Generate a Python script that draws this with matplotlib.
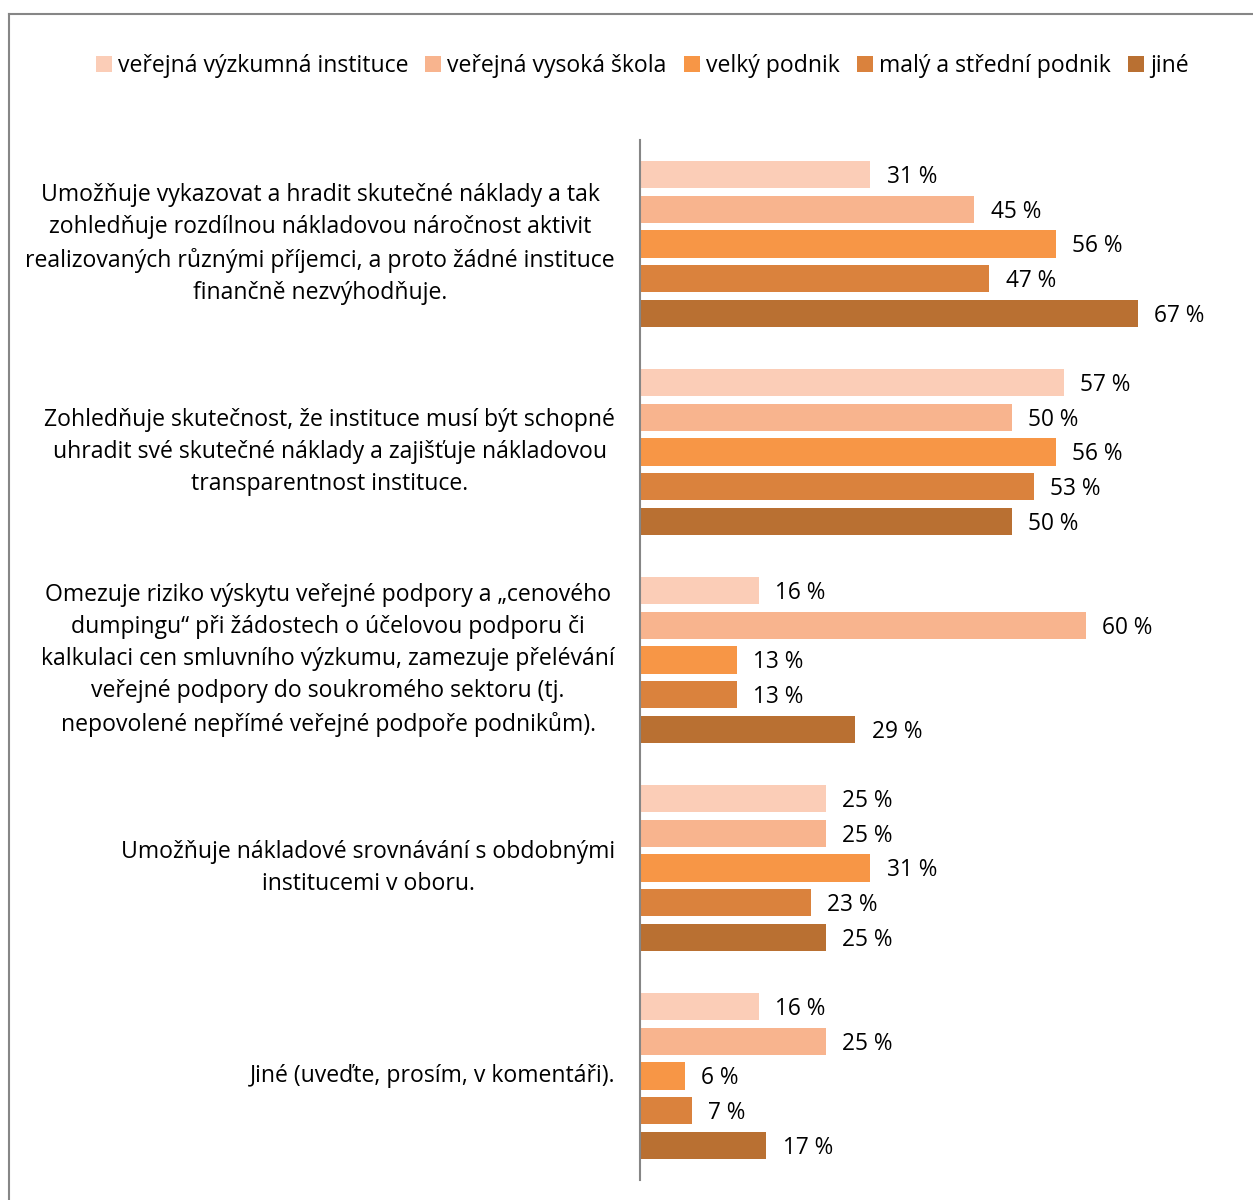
import matplotlib.pyplot as plt
from matplotlib.lines import Line2D
from matplotlib.patches import Patch

plt.rcParams["font.family"] = ["Open Sans", "DejaVu Sans"]

categories = [
    "Umožňuje vykazovat a hradit skutečné náklady a tak\n"
    "zohledňuje rozdílnou nákladovou náročnost aktivit\n"
    "realizovaných různými příjemci, a proto žádné instituce\n"
    "finančně nezvýhodňuje.",
    "Zohledňuje skutečnost, že instituce musí být schopné\n"
    "uhradit své skutečné náklady a zajišťuje nákladovou\n"
    "transparentnost instituce.",
    "Omezuje riziko výskytu veřejné podpory a „cenového\n"
    "dumpingu“ při žádostech o účelovou podporu či\n"
    "kalkulaci cen smluvního výzkumu, zamezuje přelévání\n"
    "veřejné podpory do soukromého sektoru (tj.\n"
    "nepovolené nepřímé veřejné podpoře podnikům).",
    "Umožňuje nákladové srovnávání s obdobnými\n"
    "institucemi v oboru.",
    "Jiné (uveďte, prosím, v komentáři).",
]

series_names = [
    "veřejná výzkumná instituce",
    "veřejná vysoká škola",
    "velký podnik",
    "malý a střední podnik",
    "jiné",
]

verejna_vyzkumna = [31, 57, 16, 25, 16]
verejna_vs = [45, 50, 60, 25, 25]
velky_podnik = [56, 56, 13, 31, 6]
msp = [47, 53, 13, 23, 7]
jine = [67, 50, 29, 25, 17]

series_values = [verejna_vyzkumna, verejna_vs, velky_podnik, msp, jine]
colors = ["#FBCDB7", "#F8B48E", "#F79646", "#DA823D", "#B97032"]

W, H = 1253, 1200
fig = plt.figure(figsize=(W / 100, H / 100), dpi=100)

# plot area: left edge at 640 px, y from 140 to 1180 px
px_per_pct = 7.43
xmax = 80
ax = fig.add_axes([640 / W, 1 - 1180 / H, xmax * px_per_pct / W, 1040 / H])

slot = 1 / 6
bar_h = 0.78 * slot
for j, (vals, col) in enumerate(zip(series_values, colors)):
    ys = [i + (j - 2) * slot for i in range(len(categories))]
    ax.barh(ys, vals, height=bar_h, color=col, edgecolor="none")
    for y, v in zip(ys, vals):
        ax.text(v + 2.2, y + 0.012, f"{v} %", va="center", ha="left",
                fontsize=16.3, color="#000000")

ax.set_xlim(0, xmax)
ax.set_ylim(len(categories) - 0.5, -0.5)
ax.set_xticks([])
ax.set_yticks([])
for side in ["top", "right", "bottom"]:
    ax.spines[side].set_visible(False)
ax.spines["left"].set_color("#868686")
ax.spines["left"].set_linewidth(1.5)

# category texts, right-aligned block with centered lines
for i, cat in enumerate(categories):
    ax.text(-25 / px_per_pct, i, cat, ha="right", va="center",
            multialignment="center", fontsize=16.6, linespacing=1.45,
            color="#000000")

handles = [Patch(facecolor=c, edgecolor="none") for c in colors]
fig.legend(handles, series_names, loc="center", ncol=5,
           bbox_to_anchor=(642 / W, 1 - 66 / H), frameon=False,
           fontsize=16.6, handlelength=0.7, handleheight=0.7,
           handletextpad=0.25, columnspacing=0.75, borderaxespad=0)

# outer frame (top and left only)
fig.add_artist(Line2D([9 / W, 1], [1 - 14 / H, 1 - 14 / H],
                      transform=fig.transFigure, color="#868686", lw=1.5))
fig.add_artist(Line2D([9 / W, 9 / W], [0, 1 - 14 / H],
                      transform=fig.transFigure, color="#868686", lw=1.5))

fig.savefig("out.png", dpi=100, facecolor="white")
